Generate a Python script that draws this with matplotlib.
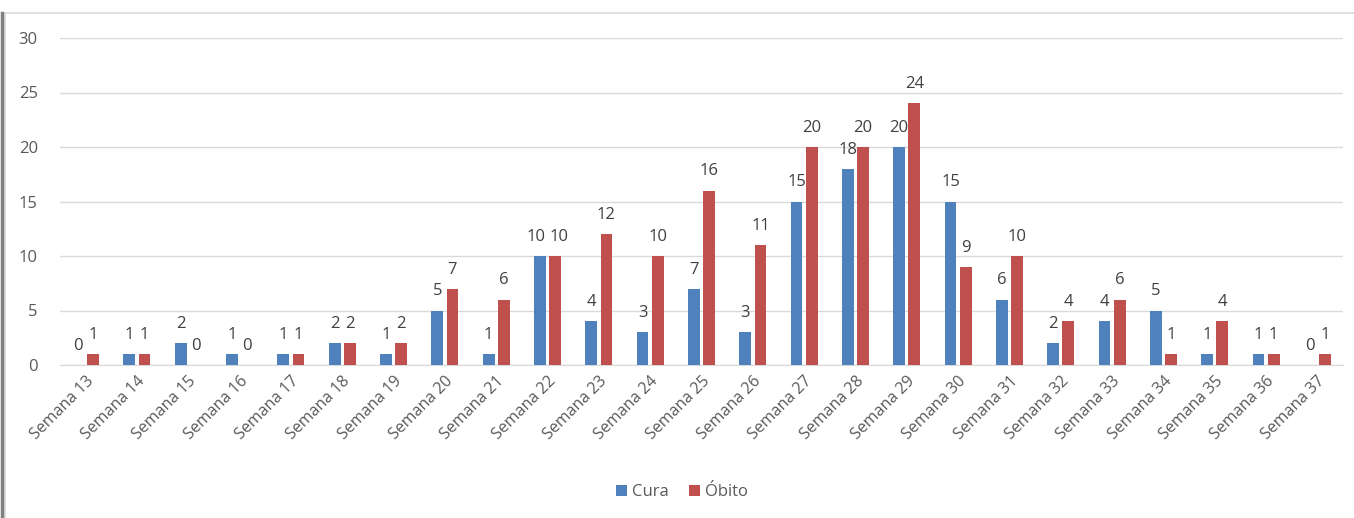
import numpy as np
import matplotlib.pyplot as plt
from matplotlib.patches import Rectangle
from matplotlib.lines import Line2D

plt.rcParams['font.family'] = ['Open Sans', 'DejaVu Sans']

semanas = ["Semana %d" % s for s in range(13, 38)]
cura = [0, 1, 2, 1, 1, 2, 1, 5, 1, 10, 4, 3, 7, 3, 15, 18, 20, 15, 6, 2, 4, 5, 1, 1, 0]
obito = [1, 1, 0, 0, 1, 2, 2, 7, 6, 10, 12, 10, 16, 11, 20, 20, 24, 9, 10, 4, 6, 1, 4, 1, 1]

azul = '#4F81BD'
vermelho = '#C0504D'
cinza = '#595959'

fig = plt.figure(figsize=(13.54, 5.18), dpi=100)
ax = fig.add_axes([60/1354, 1-365/518, 1283/1354, 327/518])

# moldura do grafico
fig.add_artist(Rectangle((5/1354, -0.1), 1.2, 1 - 13/518 + 0.1, transform=fig.transFigure,
                         fill=False, edgecolor='#D9D9D9', linewidth=1.2))
fig.add_artist(Line2D([2/1354, 2/1354], [0, 1 - 13/518], transform=fig.transFigure,
                      color='#808080', linewidth=2.5))

x = np.arange(len(semanas))
w = 0.23
off = 0.148
b1 = ax.bar(x - off, cura, w, color=azul, label='Cura', zorder=3)
b2 = ax.bar(x + off, obito, w, color=vermelho, label='Óbito', zorder=3)

for rects, vals, outros, sinal in ((b1, cura, obito, -1), (b2, obito, cura, 1)):
    for r, v, o in zip(rects, vals, outros):
        # rotulos de dois digitos na mesma altura: afasta um pouco
        dx = 2.5 * sinal if (v >= 10 and o >= 10 and abs(v - o) <= 1) else 0
        ax.annotate(str(v), (r.get_x() + r.get_width()/2, v), xytext=(dx, 8),
                    textcoords='offset points', ha='center', va='bottom',
                    fontsize=12, color='#404040')

ax.set_xlim(-0.5, len(semanas) - 0.5)
ax.set_ylim(0, 30)
ax.set_yticks(range(0, 31, 5))
ax.grid(axis='y', color='#D9D9D9', linewidth=1, zorder=0)
for s in ['top', 'right', 'left']:
    ax.spines[s].set_visible(False)
ax.spines['bottom'].set_color('#D9D9D9')
ax.tick_params(axis='both', length=0, labelcolor=cinza)
ax.tick_params(axis='y', pad=16, labelsize=12)
ax.set_xticks(x)
ax.set_xticklabels(semanas, rotation=45, ha='right', va='top', rotation_mode='anchor')
ax.tick_params(axis='x', pad=6, labelsize=11.5)

leg = fig.legend(handles=[b1, b2], loc='center', bbox_to_anchor=(682/1354, 1-492/518),
                 ncol=2, frameon=False, fontsize=12, handlelength=0.65, handleheight=0.65,
                 handletextpad=0.3, columnspacing=1.2)
for t in leg.get_texts():
    t.set_color(cinza)

plt.savefig("out.png", dpi=100)
